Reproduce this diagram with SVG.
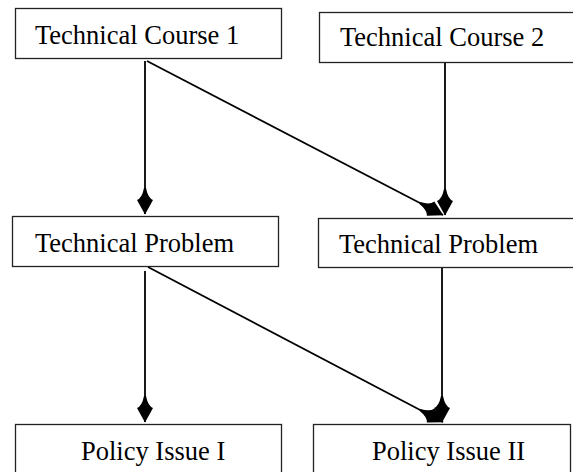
<svg xmlns="http://www.w3.org/2000/svg" width="573" height="472" viewBox="0 0 573 472">
<style>
.box{fill:#fff;stroke:#222;stroke-width:1.3}
.lbl{font-family:"Liberation Serif","Times New Roman",serif;font-size:26.5px;fill:#000}
.conn{fill:none;stroke:#000;stroke-width:1.8}
</style>
<defs>
<marker id="ah" markerUnits="userSpaceOnUse" orient="auto" refX="0" refY="0" viewBox="-30 -12 32 24" markerWidth="32" markerHeight="24">
<path d="M0.5,0 L-14,-8 Q-16,-3 -26,-1 L-26,1 Q-16,3 -14,8 Z" fill="#000"/>
</marker>
</defs>
<rect width="573" height="472" fill="#fff"/>
<g id="connectors">
<path class="conn" marker-end="url(#ah)" d="M145,61 L145,214"/>
<path class="conn" marker-end="url(#ah)" d="M147,61 L443,215"/>
<path class="conn" marker-end="url(#ah)" d="M445,63 L445,215"/>
<path class="conn" marker-end="url(#ah)" d="M145,271 L145,422"/>
<path class="conn" marker-end="url(#ah)" d="M148,267 L443,422"/>
<path class="conn" marker-end="url(#ah)" d="M442,268 L442,422"/>
</g>
<g id="tc1"><rect class="box" x="15.5" y="8.5" width="266" height="50"/><text class="lbl" x="35" y="44">Technical Course 1</text></g>
<g id="tc2"><rect class="box" x="319.5" y="12.5" width="270" height="50"/><text class="lbl" x="340" y="46">Technical Course 2</text></g>
<g id="tp1"><rect class="box" x="12.5" y="216.5" width="266" height="50"/><text class="lbl" x="35" y="252">Technical Problem</text></g>
<g id="tp2"><rect class="box" x="318.5" y="218.5" width="270" height="49"/><text class="lbl" x="339" y="253">Technical Problem</text></g>
<g id="pi1"><rect class="box" x="15.5" y="424.5" width="266" height="60"/><text class="lbl" x="81" y="460">Policy Issue I</text></g>
<g id="pi2"><rect class="box" x="313.5" y="424.5" width="257" height="60"/><text class="lbl" x="372" y="460">Policy Issue II</text></g>
</svg>
